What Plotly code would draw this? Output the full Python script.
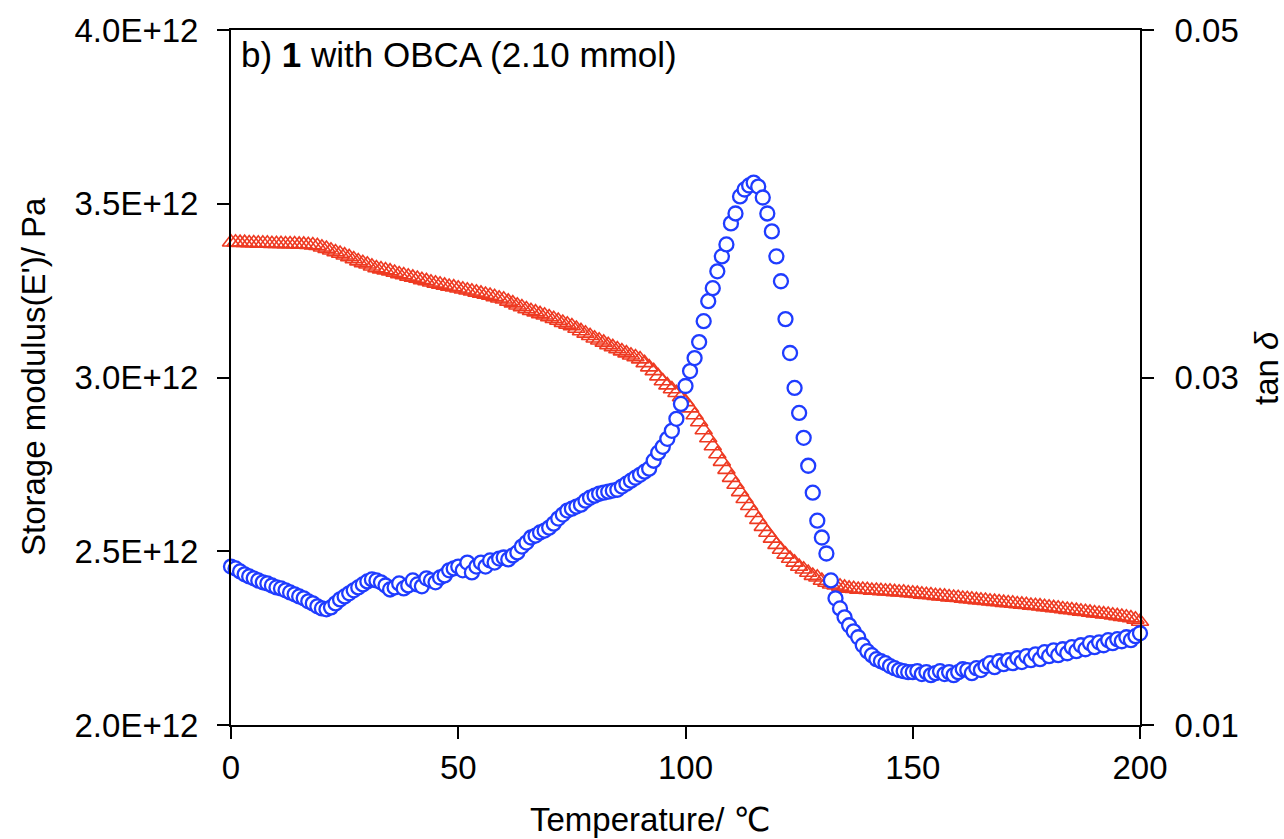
import plotly.graph_objects as go

temperature = list(range(0, 201))

# Storage modulus E' in units of 1E+12 Pa
storage_modulus_e12 = [
    3.389, 3.389, 3.388, 3.388, 3.387, 3.387, 3.386, 3.386, 3.386, 3.385,
    3.385, 3.385, 3.384, 3.384, 3.384, 3.383, 3.383, 3.382, 3.381, 3.379,
    3.375, 3.371, 3.366, 3.361, 3.357, 3.352, 3.347, 3.341, 3.335, 3.330,
    3.326, 3.320, 3.315, 3.312, 3.309, 3.306, 3.302, 3.298, 3.295, 3.291,
    3.288, 3.285, 3.281, 3.278, 3.274, 3.271, 3.268, 3.265, 3.262, 3.260,
    3.257, 3.254, 3.251, 3.248, 3.245, 3.242, 3.239, 3.236, 3.232, 3.228,
    3.225, 3.219, 3.214, 3.208, 3.203, 3.197, 3.192, 3.188, 3.183, 3.179,
    3.174, 3.169, 3.164, 3.158, 3.153, 3.148, 3.141, 3.134, 3.127, 3.120,
    3.113, 3.107, 3.101, 3.094, 3.088, 3.082, 3.076, 3.070, 3.064, 3.059,
    3.053, 3.042, 3.030, 3.019, 3.004, 2.990, 2.978, 2.967, 2.956, 2.944,
    2.930, 2.912, 2.892, 2.872, 2.849, 2.826, 2.803, 2.780, 2.758, 2.735,
    2.712, 2.692, 2.671, 2.651, 2.631, 2.611, 2.591, 2.571, 2.554, 2.537,
    2.519, 2.505, 2.491, 2.479, 2.468, 2.456, 2.448, 2.439, 2.430, 2.425,
    2.416, 2.410, 2.405, 2.402, 2.399, 2.396, 2.393, 2.392, 2.390, 2.390,
    2.389, 2.387, 2.387, 2.386, 2.385, 2.385, 2.383, 2.382, 2.382, 2.380,
    2.379, 2.378, 2.376, 2.375, 2.374, 2.372, 2.371, 2.370, 2.368, 2.367,
    2.366, 2.364, 2.363, 2.362, 2.360, 2.359, 2.358, 2.356, 2.355, 2.354,
    2.352, 2.351, 2.350, 2.348, 2.347, 2.346, 2.344, 2.343, 2.342, 2.340,
    2.339, 2.337, 2.336, 2.334, 2.332, 2.331, 2.329, 2.327, 2.326, 2.324,
    2.322, 2.321, 2.319, 2.318, 2.316, 2.314, 2.312, 2.310, 2.308, 2.304,
    2.298,
]

tan_delta = [
    0.01912, 0.01901, 0.01884, 0.01867, 0.01855, 0.01844, 0.01832, 0.01821, 0.01815, 0.01803,
    0.01792, 0.01786, 0.01775, 0.01763, 0.01752, 0.01740, 0.01729, 0.01712, 0.01700, 0.01683,
    0.01671, 0.01666, 0.01677, 0.01700, 0.01723, 0.01740, 0.01758, 0.01775, 0.01792, 0.01809,
    0.01826, 0.01838, 0.01832, 0.01821, 0.01803, 0.01780, 0.01792, 0.01815, 0.01786, 0.01803,
    0.01832, 0.01809, 0.01798, 0.01844, 0.01832, 0.01821, 0.01849, 0.01861, 0.01890, 0.01901,
    0.01912, 0.01890, 0.01935, 0.01878, 0.01912, 0.01935, 0.01912, 0.01947, 0.01935, 0.01958,
    0.01964, 0.01953, 0.01976, 0.01993, 0.02027, 0.02050, 0.02079, 0.02090, 0.02108, 0.02119,
    0.02136, 0.02159, 0.02188, 0.02211, 0.02234, 0.02245, 0.02257, 0.02268, 0.02291, 0.02308,
    0.02320, 0.02331, 0.02337, 0.02343, 0.02349, 0.02354, 0.02372, 0.02389, 0.02406, 0.02423,
    0.02440, 0.02458, 0.02475, 0.02521, 0.02567, 0.02601, 0.02647, 0.02693, 0.02762, 0.02848,
    0.02951, 0.03037, 0.03112, 0.03204, 0.03324, 0.03439, 0.03514, 0.03611, 0.03697, 0.03766,
    0.03887, 0.03944, 0.04042, 0.04082, 0.04105, 0.04122, 0.04099, 0.04036, 0.03944, 0.03841,
    0.03697, 0.03554, 0.03336, 0.03141, 0.02940, 0.02796, 0.02653, 0.02492, 0.02337, 0.02176,
    0.02079, 0.01987, 0.01832, 0.01729, 0.01671, 0.01620, 0.01574, 0.01539, 0.01505, 0.01459,
    0.01425, 0.01402, 0.01379, 0.01367, 0.01356, 0.01339, 0.01327, 0.01316, 0.01310, 0.01304,
    0.01304, 0.01310, 0.01293, 0.01304, 0.01287, 0.01298, 0.01310, 0.01293, 0.01304, 0.01287,
    0.01304, 0.01321, 0.01316, 0.01298, 0.01327, 0.01316, 0.01339, 0.01356, 0.01333, 0.01367,
    0.01350, 0.01373, 0.01356, 0.01385, 0.01362, 0.01396, 0.01373, 0.01407, 0.01379, 0.01419,
    0.01396, 0.01430, 0.01402, 0.01436, 0.01413, 0.01448, 0.01425, 0.01459, 0.01436, 0.01471,
    0.01448, 0.01476, 0.01459, 0.01488, 0.01471, 0.01494, 0.01482, 0.01505, 0.01488, 0.01511,
    0.01528,
]

left_tickvals = [2.0e12, 2.5e12, 3.0e12, 3.5e12, 4.0e12]
left_ticktext = ["2.0E+12", "2.5E+12", "3.0E+12", "3.5E+12", "4.0E+12"]
right_tickvals = [0.01, 0.03, 0.05]
right_ticktext = ["0.01", "0.03", "0.05"]
x_tickvals = [0, 50, 100, 150, 200]

FONT = "Liberation Sans, Arial, DejaVu Sans, sans-serif"
RED = "#ee3a22"
BLUE = "#1f3cff"

fig = go.Figure()
fig.add_trace(go.Scatter(
    x=temperature,
    y=[v * 1e12 for v in storage_modulus_e12],
    mode="markers",
    marker=dict(symbol="triangle-up-open", size=15, color=RED, line=dict(width=1.6, color=RED)),
    cliponaxis=False,
    yaxis="y",
    showlegend=False,
))
fig.add_trace(go.Scatter(
    x=temperature,
    y=tan_delta,
    mode="markers",
    marker=dict(symbol="circle", size=14, color="white", line=dict(width=2.3, color=BLUE)),
    cliponaxis=False,
    yaxis="y2",
    showlegend=False,
))

fig.update_layout(
    width=1284, height=839,
    margin=dict(l=231, r=144, t=28, b=114),
    paper_bgcolor="white", plot_bgcolor="white",
    font=dict(family=FONT, size=33, color="black"),
    xaxis=dict(
        range=[0, 200], tickvals=x_tickvals,
        showline=True, linecolor="black", linewidth=2, mirror=True,
        ticks="outside", ticklen=12, tickwidth=2, tickcolor="black",
        showgrid=False, zeroline=False,
    ),
    yaxis=dict(
        range=[2.0e12, 4.0e12], tickvals=left_tickvals, ticktext=left_ticktext,
        showline=True, linecolor="black", linewidth=2,
        ticks="outside", ticklen=12, tickwidth=2, tickcolor="black",
        ticklabelstandoff=12,
        showgrid=False, zeroline=False,
    ),
    yaxis2=dict(
        range=[0.01, 0.05], tickvals=right_tickvals, ticktext=right_ticktext,
        overlaying="y", side="right",
        showline=True, linecolor="black", linewidth=2,
        ticks="outside", ticklen=12, tickwidth=2, tickcolor="black",
        ticklabelstandoff=14,
        showgrid=False, zeroline=False,
    ),
    annotations=[
        dict(
            x=0, y=1, xref="paper", yref="paper", xanchor="left", yanchor="top",
            xshift=8, yshift=-3, showarrow=False,
            text="b) <b>1</b> with OBCA (2.10 mmol)", font=dict(size=35, color="black"),
        ),
        dict(
            x=650, y=820, xref="paper", yref="paper", showarrow=False,
            text="Temperature/ \u2103", font=dict(size=33, color="black"),
        ),
        dict(
            x=33, y=376, xref="paper", yref="paper", showarrow=False, textangle=-90,
            text="Storage modulus(E')/ Pa", font=dict(size=33, color="black"),
        ),
        dict(
            x=1266, y=367, xref="paper", yref="paper", showarrow=False, textangle=-90,
            text="tan <i>\u03b4</i>", font=dict(size=33, color="black"),
        ),
    ],
)

# convert pixel positions of axis-title annotations to paper coordinates
plot_l, plot_r, plot_t, plot_b = 231, 1140, 28, 725
for ann in fig.layout.annotations[1:]:
    ann.x = (ann.x - plot_l) / (plot_r - plot_l)
    ann.y = (plot_b - ann.y) / (plot_b - plot_t)
    ann.xanchor = "center"
    ann.yanchor = "middle"

fig.write_html("out.html")
